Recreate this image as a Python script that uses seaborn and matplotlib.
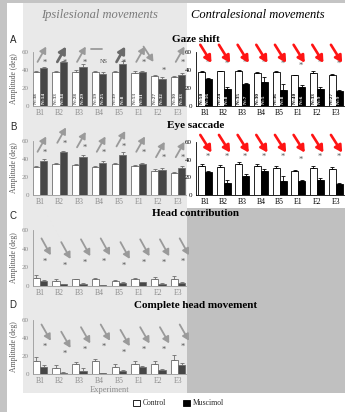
"""
plot.py
-------
Ipsilesional vs contralesional movement amplitudes, control vs muscimol.
Four rows (gaze shift, eye saccade, head contribution, complete head movement).
"""

import numpy as np
import pandas as pd
import matplotlib
matplotlib.use('Agg')
import matplotlib.pyplot as plt
from matplotlib.patches import Rectangle
import seaborn as sns

EXPERIMENTS = ['B1', 'B2', 'B3', 'B4', 'B5', 'E1', 'E2', 'E3']
CONDITIONS = ['Control', 'Muscimol']

# A  gaze shift -- ipsilesional
ipsi_gaze_ctrl = [38, 38, 38, 38, 38, 37, 33, 32]
ipsi_gaze_musc = [42, 49, 43, 36, 47, 38, 30, 35]
ipsi_gaze_ctrl_err = [1, 1, 1.5, 1, 1, 1.5, 1, 1]
ipsi_gaze_musc_err = [1, 1, 4, 2, 3, 1, 2, 2]
ipsi_gaze_ctrl_n = ['N=38', 'N=33', 'N=28', 'N=19', 'N=39', 'N=53', 'N=27', 'N=30']
ipsi_gaze_musc_n = ['N=14', 'N=34', 'N=29', 'N=25', 'N=8', 'N=11', 'N=32', 'N=33']

# A  gaze shift -- contralesional
contra_gaze_ctrl = [38, 38.5, 38.5, 37, 38, 34, 37, 35]
contra_gaze_musc = [30, 19, 24, 27, 18, 21, 19, 17]
contra_gaze_ctrl_err = [1, 0.5, 1, 0.5, 1, 1, 2, 1]
contra_gaze_musc_err = [1, 2, 2, 5, 6, 2, 2, 1]
contra_gaze_ctrl_n = ['N=50', 'N=24', 'N=35', 'N=30', 'N=36', 'N=40', 'N=33', 'N=27']
contra_gaze_musc_n = ['N=16', 'N=8', 'N=7', 'N=5', 'N=8', 'N=6', 'N=9', 'N=9']

# B  eye saccade
ipsi_eye_ctrl = [31, 34, 33, 31, 34, 32, 27, 24]
ipsi_eye_musc = [38, 48, 42, 36, 45, 35, 28, 30]
ipsi_eye_ctrl_err = [1.5, 2, 1.5, 1.5, 1.5, 1.5, 1.5, 1.5]
ipsi_eye_musc_err = [2, 1, 3, 2, 3, 1, 2, 2]
contra_eye_ctrl = [33, 32, 35, 33, 31, 27, 31, 30]
contra_eye_musc = [26, 14, 22, 27, 16, 16, 17, 13]
contra_eye_ctrl_err = [2, 2, 2, 2, 1.5, 1.5, 2, 1.5]
contra_eye_musc_err = [1, 3, 2, 3, 5, 1, 2, 1]

# C  head contribution (ipsilesional only)
ipsi_head_ctrl = [9, 5, 7, 8, 5, 7, 8, 8]
ipsi_head_musc = [5, 2, 2, 1, 3, 4, 2, 3]
ipsi_head_ctrl_err = [3, 2, 1, 1, 1, 2, 2, 3]
ipsi_head_musc_err = [1, 0.5, 1, 0.5, 1, 0.5, 1, 1]

# D  complete head movement (ipsilesional only)
ipsi_full_ctrl = [15, 7, 11, 14, 8, 11, 11, 16]
ipsi_full_musc = [8, 1, 3, 1, 3, 8, 4, 10]
ipsi_full_ctrl_err = [4, 3, 2, 3, 3, 3, 3, 5]
ipsi_full_musc_err = [2, 1, 4, 0.5, 2, 1, 2, 2]

# significance marks ('*' or 'NS'), their heights and the effect direction
ipsi_gaze_sig = ['*', '*', '*', 'NS', '*', '*', '*', '*']
ipsi_gaze_sig_y = [48, 48, 48, 49, 48, 48, 39, 48]
ipsi_gaze_dir = ['up', 'up', 'up', 'flat', 'up', 'up', 'down', 'up']
ipsi_eye_sig_y = [47, 57, 52, 47, 53, 47, 41, 41]
contra_gaze_sig_y = [48, 47, 48, 48, 47, 45, 48, 47]
contra_eye_sig_y = [43, 43, 43, 43, 43, 40, 43, 43]
ipsi_head_sig_y = [26, 22, 25, 26, 22, 25, 25, 26]
ipsi_full_sig_y = [30, 22, 27, 30, 24, 27, 27, 30]

W, H = 345, 412
SERIF = ['Liberation Serif', 'DejaVu Serif']
FADED = '#8c8c8c'
RED = '#ff1414'


def box(x0, y0, x1, y1):
    # pixel box (top-left origin) -> figure fraction rect
    return [x0 / W, 1 - y1 / H, (x1 - x0) / W, (y1 - y0) / H]


def add_rect(fig, x0, y0, x1, y1, color):
    fig.patches.append(Rectangle((x0 / W, 1 - y1 / H), (x1 - x0) / W, (y1 - y0) / H,
                                 transform=fig.transFigure, facecolor=color,
                                 edgecolor='none', zorder=-5))


def bar_panel(fig, rect, ctrl, musc, ctrl_err, musc_err, faded, musc_color):
    ax = fig.add_axes(box(*rect))
    df = pd.DataFrame({
        'experiment': EXPERIMENTS * 2,
        'condition': [CONDITIONS[0]] * 8 + [CONDITIONS[1]] * 8,
        'amplitude': list(ctrl) + list(musc),
    })
    edge = '#6e6e6e' if faded else 'black'
    sns.barplot(data=df, x='experiment', y='amplitude', hue='condition',
                order=EXPERIMENTS, hue_order=CONDITIONS,
                palette={'Control': 'white', 'Muscimol': musc_color},
                edgecolor=edge, linewidth=0.6, width=0.74, errorbar=None,
                legend=False, ax=ax)
    for cont, errs in zip(ax.containers, [ctrl_err, musc_err]):
        for bar, e in zip(cont, errs):
            ax.errorbar(bar.get_x() + bar.get_width() / 2, bar.get_height(),
                        yerr=[[0], [e]], color=edge, elinewidth=0.6,
                        capsize=1.6, capthick=0.6)

    txt = FADED if faded else 'black'
    ax.set_facecolor('none')
    ax.set_ylim(0, 60)
    ax.set_yticks([0, 20, 40, 60])
    ax.set_xlim(-0.35 if faded else -0.48, 7.4 if faded else 7.45)
    ax.set_xlabel('')
    ax.set_ylabel('')
    for s in ['top', 'right']:
        ax.spines[s].set_visible(False)
    for s in ['left', 'bottom']:
        ax.spines[s].set_color('#9a9a9a' if faded else 'black')
        ax.spines[s].set_linewidth(0.6)
    ax.tick_params(axis='y', length=2, width=0.5, pad=1, labelsize=5,
                   colors=txt)
    ax.tick_params(axis='x', length=0, pad=2, labelsize=5.5, colors=txt)
    for lab in ax.get_xticklabels() + ax.get_yticklabels():
        lab.set_fontfamily(SERIF)
    return ax


def n_labels(ax, ctrl_n, musc_n, faded):
    for cont, labels, col in zip(ax.containers, [ctrl_n, musc_n],
                                 ['#555555' if faded else 'black', 'white']):
        for bar, lab in zip(cont, labels):
            ax.text(bar.get_x() + bar.get_width() / 2, 2, lab, rotation=90,
                    ha='center', va='bottom', fontsize=3.8, color=col,
                    family=SERIF, fontweight='bold')


def arrow(ax, tail, head, color, lw, scale):
    ax.annotate('', xy=head, xytext=tail, annotation_clip=False,
                arrowprops=dict(arrowstyle='-|>,head_length=0.45,head_width=0.25',
                                color=color, lw=lw, mutation_scale=scale,
                                shrinkA=0, shrinkB=0))


def marks(ax, sig_y, dirs, color, sig=None, lw=1.3, big=(), contra=False):
    for i, (y, d) in enumerate(zip(sig_y, dirs)):
        s = sig[i] if sig else '*'
        sx = i + 0.15 if contra else i + 0.25
        ax.text(sx, y, s, ha='center', va='center',
                fontsize=4.5 if s == 'NS' else 6, color='#505050',
                family=SERIF)
        w = lw * 1.5 if i in big else lw
        c = '#6a6a6a' if i in big else color
        if contra:
            arrow(ax, (i - 0.25, 68), (i + 0.35, 48), RED, 1.9, 9)
        elif d == 'up':
            arrow(ax, (i - 0.12, y + 1), (i + 0.32, y + 18), c, w, 7 + w)
        elif d == 'down' and sig:
            arrow(ax, (i - 0.75, y + 27), (i - 0.25, y + 10), c, w, 7 + w)
        elif d == 'down':
            arrow(ax, (i + 0.08, y + 25), (i + 0.55, y + 7), c, w, 7 + w)
        elif d == 'flat':
            ax.plot([i - 0.4, i + 0.15], [y + 14, y + 14], color=c, lw=w,
                    clip_on=False)


def main():
    sns.set_style('white')
    plt.rcParams['font.family'] = SERIF

    fig = plt.figure(figsize=(W / 100, H / 100), dpi=100)

    # background blocks
    add_rect(fig, 0, 0, W, 3, '#c4c4c4')
    add_rect(fig, 0, 0, 7, H, '#c4c4c4')
    add_rect(fig, 23, 3, 187, 393, '#e9e9e9')
    add_rect(fig, 187, 208, W, 393, '#c0c0c0')

    fig.text(99 / W, 1 - 15 / H, 'Ipsilesional movements', ha='center',
             va='center', style='italic', fontsize=9, color='#7a7a7a')
    fig.text(258 / W, 1 - 15 / H, 'Contralesional movements', ha='center',
             va='center', style='italic', fontsize=9, color='black')

    # row A
    ax = bar_panel(fig, (33, 52, 186, 106), ipsi_gaze_ctrl, ipsi_gaze_musc,
                   ipsi_gaze_ctrl_err, ipsi_gaze_musc_err, True, '#464646')
    n_labels(ax, ipsi_gaze_ctrl_n, ipsi_gaze_musc_n, True)
    marks(ax, ipsi_gaze_sig_y, ipsi_gaze_dir, '#9a9a9a', sig=ipsi_gaze_sig,
          big=(1, 4))
    ax = bar_panel(fig, (196, 52, 344, 106), contra_gaze_ctrl, contra_gaze_musc,
                   contra_gaze_ctrl_err, contra_gaze_musc_err, False, 'black')
    n_labels(ax, contra_gaze_ctrl_n, contra_gaze_musc_n, False)
    marks(ax, contra_gaze_sig_y, ['down'] * 8, RED, contra=True)

    # row B
    ax = bar_panel(fig, (33, 141, 186, 195), ipsi_eye_ctrl, ipsi_eye_musc,
                   ipsi_eye_ctrl_err, ipsi_eye_musc_err, True, '#464646')
    marks(ax, ipsi_eye_sig_y, ['up'] * 8, '#9a9a9a')
    ax = bar_panel(fig, (196, 142, 344, 195), contra_eye_ctrl, contra_eye_musc,
                   contra_eye_ctrl_err, contra_eye_musc_err, False, 'black')
    marks(ax, contra_eye_sig_y, ['down'] * 8, RED, contra=True)

    # row C
    ax = bar_panel(fig, (33, 230, 186, 286), ipsi_head_ctrl, ipsi_head_musc,
                   ipsi_head_ctrl_err, ipsi_head_musc_err, True, '#464646')
    marks(ax, ipsi_head_sig_y, ['down'] * 8, '#9a9a9a')

    # row D
    ax = bar_panel(fig, (33, 320, 186, 374), ipsi_full_ctrl, ipsi_full_musc,
                   ipsi_full_ctrl_err, ipsi_full_musc_err, True, '#464646')
    marks(ax, ipsi_full_sig_y, ['down'] * 8, '#9a9a9a')
    ax.set_xlabel('Experiment', fontsize=6, color=FADED, labelpad=1)

    # row titles, panel letters, y labels
    for y, title, yc in [(39, 'Gaze shift', 79), (125, 'Eye saccade', 168),
                         (214, 'Head contribution', 258),
                         (305, 'Complete head movement', 347)]:
        fig.text(196 / W, 1 - y / H, title, ha='center', va='center',
                 fontsize=8, fontweight='bold', color='black')
        fig.text(14 / W, 1 - yc / H, 'Amplitude (deg)', rotation=90,
                 ha='center', va='center', fontsize=5.5, color='#555555')
    for y, letter in [(40, 'A'), (127, 'B'), (216, 'C'), (305, 'D')]:
        fig.text(13 / W, 1 - y / H, letter, ha='center', va='center',
                 fontsize=7, family=['Liberation Sans', 'DejaVu Sans'])

    # legend
    for x0, fc, lab in [(133, 'white', 'Control'), (183, 'black', 'Muscimol')]:
        fig.patches.append(Rectangle((x0 / W, 1 - 406 / H), 7 / W, 6 / H,
                                     transform=fig.transFigure, facecolor=fc,
                                     edgecolor='black', linewidth=0.6))
        fig.text((x0 + 10) / W, 1 - 403 / H, lab, ha='left', va='center',
                 fontsize=5.5)

    fig.savefig('out.png', dpi=100)
    plt.close(fig)


if __name__ == '__main__':
    main()
